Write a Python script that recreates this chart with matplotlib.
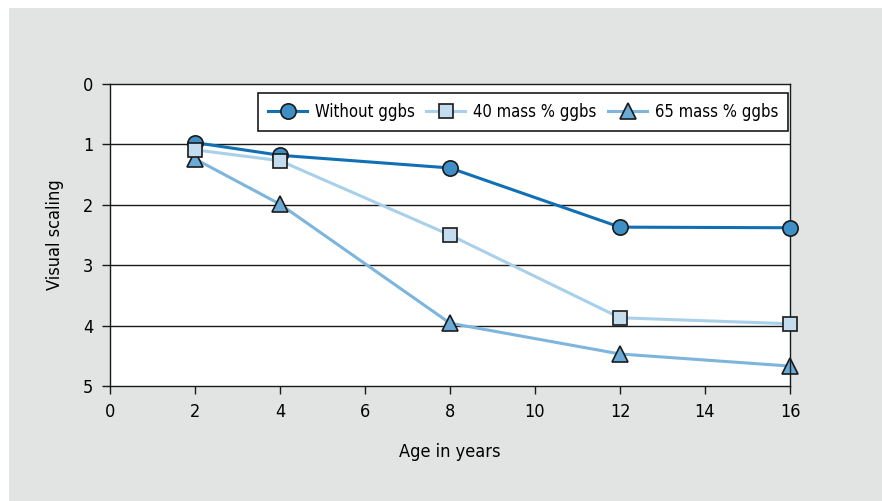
import matplotlib.pyplot as plt
from matplotlib.patches import Rectangle

plt.rcParams['font.family'] = ['DejaVu Sans']
plt.rcParams['font.stretch'] = 'condensed'

# data
years = [2, 4, 8, 12, 16]
without_ggbs = [0.97, 1.18, 1.39, 2.37, 2.38]
ggbs_40 = [1.09, 1.27, 2.5, 3.87, 3.97]
ggbs_65 = [1.24, 1.99, 3.96, 4.47, 4.67]

x_ticks = [0, 2, 4, 6, 8, 10, 12, 14, 16]
y_ticks = [0, 1, 2, 3, 4, 5]

fig = plt.figure(figsize=(8.82, 5.01), dpi=100)
fig.set_facecolor("w")
# grey panel behind the chart
fig.patches.append(Rectangle((9 / 882, 0), 1, 1 - 8 / 501, transform=fig.transFigure,
                             facecolor="#e2e3e3", edgecolor="none", zorder=-1))

ax = fig.add_axes([110 / 882, 1 - 386 / 501, 680 / 882, 302 / 501])
ax.set_facecolor("w")

ax.plot(years, without_ggbs, color="#1170b3", lw=2.2, marker="o", ms=11,
        mfc="#3d8fc6", mec="#1a1a1a", mew=1.2, label="Without ggbs", zorder=3, clip_on=False)
ax.plot(years, ggbs_40, color="#a9d0ea", lw=2.2, marker="s", ms=10,
        mfc="#c3ddef", mec="#1a1a1a", mew=1.2, label="40 mass % ggbs", zorder=4, clip_on=False)
ax.plot(years, ggbs_65, color="#7db5dc", lw=2.2, marker="^", ms=11,
        mfc="#6aaad6", mec="#1a1a1a", mew=1.2, label="65 mass % ggbs", zorder=2, clip_on=False)

ax.set_xlim(0, 16)
ax.set_ylim(5, 0)
ax.set_xticks(x_ticks)
ax.set_yticks(y_ticks)
for y in y_ticks[1:-1]:
    ax.axhline(y, color="#1a1a1a", lw=1.0, zorder=1)

for s in ax.spines.values():
    s.set_color("#1a1a1a")
    s.set_linewidth(1.0)

ax.tick_params(direction="out", length=6, width=1.0, color="#1a1a1a",
               labelsize=13, pad=6)
ax.set_xlabel("Age in years", fontsize=13, labelpad=16)
ax.set_ylabel("Visual scaling", fontsize=13, labelpad=14)

leg = ax.legend(loc="upper right", bbox_to_anchor=(0.997, 0.97), ncol=3,
                fontsize=12, frameon=True, fancybox=False, framealpha=1,
                handlelength=2.35, handletextpad=0.45, columnspacing=0.7,
                borderpad=0.6, borderaxespad=0)
leg.get_frame().set_edgecolor("#1a1a1a")
leg.get_frame().set_linewidth(1.2)

fig.savefig("out.png", dpi=100)
